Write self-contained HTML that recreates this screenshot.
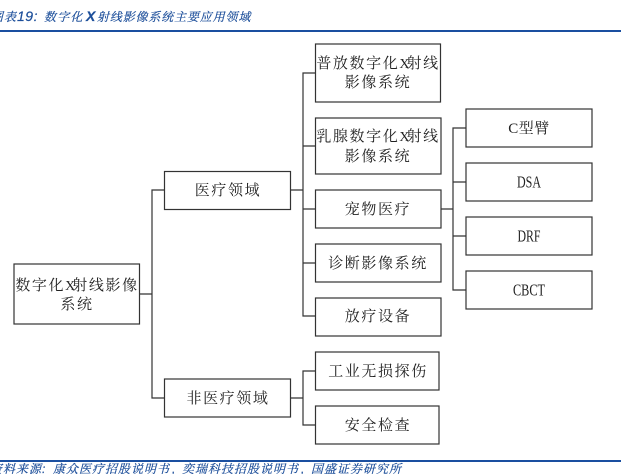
<!DOCTYPE html>
<html><head><meta charset="utf-8"><style>
html,body{margin:0;padding:0;background:#fff}
body{width:621px;height:474px;overflow:hidden;position:relative}
svg{position:absolute;left:0;top:0}
text{font-family:"Liberation Serif","Noto Serif CJK SC",serif;font-size:15px;fill:#222;text-anchor:middle;letter-spacing:1.6px}
text .x{letter-spacing:-3px;font-size:14px}
.l{font-size:17px;letter-spacing:0}
.c{font-family:"Liberation Sans","Noto Serif CJK SC",serif;font-size:12px;font-style:italic;fill:#1c4e9a;text-anchor:start;letter-spacing:1px;stroke:#1c4e9a;stroke-width:.2}
rect{fill:#fff;stroke:#333;stroke-width:1.2}
path{fill:none;stroke:#333;stroke-width:1.2}
</style></head><body>
<svg width="621" height="474" viewBox="0 0 621 474">
<line x1="0" x2="621" y1="31" y2="31" stroke="#1a4fa0" stroke-width="2"/>
<line x1="0" x2="621" y1="461" y2="461" stroke="#1a4fa0" stroke-width="2"/>
<text class="c" x="-9" y="21" style="letter-spacing:1px">图表</text>
<text class="c" x="17" y="21" style="font-size:14px;letter-spacing:.5px">19:</text>
<text class="c" x="44" y="21" style="letter-spacing:1.2px">数字化</text>
<text class="c" x="86" y="21" style="font-size:14px;font-weight:bold">X</text>
<text class="c" x="97" y="21" style="letter-spacing:.85px">射线影像系统主要应用领域</text>
<text class="c" x="-10" y="473">资料来源:</text>
<text class="c" x="53" y="473">康众医疗招股说明书</text>
<text class="c" x="172" y="473">,</text>
<text class="c" x="182" y="473">奕瑞科技招股说明书</text>
<text class="c" x="301" y="473">,</text>
<text class="c" x="311" y="473">国盛证券研究所</text>

<path d="M139 294H152M164.500 190H152V398H164.500"/>
<path d="M290 190H303M315.500 73H303V316H315.500M303 146H315.500M303 209H315.500M303 263H315.500"/>
<path d="M290 398H303M315.500 371H303V425H315.500"/>
<path d="M441 209H453M466 128H453V290H466M453 182H466M453 236H466"/>

<rect x="14" y="264" width="125.500" height="60"/>
<rect x="164.500" y="171.500" width="126" height="38"/>
<rect x="164.500" y="379" width="126" height="38"/>
<rect x="315.500" y="44" width="125" height="58"/>
<rect x="315.500" y="118" width="125.500" height="56"/>
<rect x="315.500" y="190" width="125.500" height="38"/>
<rect x="315.500" y="244" width="125.500" height="38"/>
<rect x="315.500" y="298" width="125.500" height="38"/>
<rect x="315.500" y="352" width="123.500" height="38"/>
<rect x="315.500" y="406" width="123.500" height="38"/>
<rect x="466" y="109" width="126" height="38"/>
<rect x="466" y="163" width="126" height="38"/>
<rect x="466" y="217" width="126" height="38"/>
<rect x="466" y="271" width="126" height="38"/>

<text x="77" y="290">数字化<tspan class="x">X</tspan>射线影像</text>
<text x="77" y="309">系统</text>
<text x="228" y="195">医疗领域</text>
<text x="228" y="403">非医疗领域</text>
<text x="378" y="68">普放数字化<tspan class="x">X</tspan>射线</text>
<text x="378" y="87">影像系统</text>
<text x="378" y="141">乳腺数字化<tspan class="x">X</tspan>射线</text>
<text x="378" y="161">影像系统</text>
<text x="378" y="214">宠物医疗</text>
<text x="378" y="268">诊断影像系统</text>
<text x="378" y="321">放疗设备</text>
<text x="378" y="376">工业无损探伤</text>
<text x="378" y="430">安全检查</text>
<text x="529" y="133" style="letter-spacing:.5px">C型臂</text>
<text class="l" x="529" y="187.500" textLength="24" lengthAdjust="spacingAndGlyphs">DSA</text>
<text class="l" x="529" y="241.500" textLength="23" lengthAdjust="spacingAndGlyphs">DRF</text>
<text class="l" x="529" y="295.500" textLength="32" lengthAdjust="spacingAndGlyphs">CBCT</text>
</svg>
</body></html>
